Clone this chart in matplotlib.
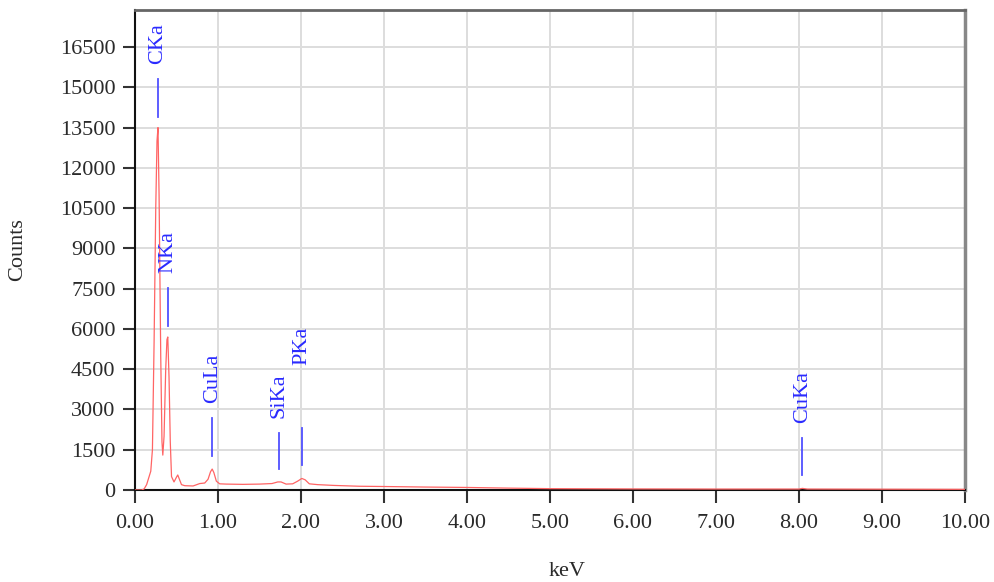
#!/usr/bin/env python3

import numpy as np
import matplotlib.pyplot as plt

plt.rcParams['font.family'] = ['Liberation Serif', 'DejaVu Serif']

# EDS spectrum, energy (keV) against counts
energy = [0.00, 0.08, 0.11, 0.14, 0.17, 0.19, 0.21, 0.23, 0.25, 0.265, 0.277,
          0.29, 0.31, 0.325, 0.335, 0.35, 0.37, 0.385, 0.395, 0.41, 0.425,
          0.44, 0.47, 0.50, 0.515, 0.535, 0.56, 0.60, 0.70, 0.78, 0.84, 0.88,
          0.91, 0.93, 0.95, 0.98, 1.02, 1.10, 1.30, 1.50, 1.65, 1.72, 1.76,
          1.82, 1.90, 1.96, 2.01, 2.05, 2.10, 2.20, 2.40, 2.70, 3.00, 3.50,
          4.00, 4.50, 5.00, 6.00, 7.00, 8.00, 8.04, 8.10, 9.00, 10.00]
counts = [0, 0, 40, 200, 500, 700, 1500, 5500, 10500, 13000, 13500,
          11000, 5000, 1800, 1300, 2000, 4500, 5600, 5700, 4200, 1800,
          500, 300, 480, 560, 400, 200, 160, 150, 240, 260, 400,
          680, 780, 650, 330, 230, 220, 210, 220, 240, 300, 300,
          220, 230, 330, 430, 380, 230, 200, 170, 140, 130, 110,
          95, 70, 50, 40, 35, 35, 60, 35, 30, 25]

# Element line markers
lines = ['CKa', 'NKa', 'CuLa', 'SiKa', 'PKa', 'CuKa']
line_kev = [0.277, 0.392, 0.930, 1.739, 2.013, 8.040]
marker_low = [13890, 6110, 1270, 780, 930, 560]
marker_high = [15300, 7520, 2680, 2120, 2310, 1940]

yticks = np.arange(0, 16501, 1500)
xticks = np.arange(0, 10.01, 1.0)

fig = plt.figure(figsize=(9.95, 5.82), dpi=100)
ax = fig.add_axes([135 / 995, 1 - 490 / 582, 830 / 995, 480 / 582])

ax.plot(energy, counts, color='#ff6464', lw=0.9, zorder=3)

# extra lift for labels that would collide
lift = [0, 0, 0, 0, 34, 0]
for name, x, lo, hi, extra in zip(lines, line_kev, marker_low, marker_high, lift):
    ax.plot([x, x], [lo, hi], color='#5050ff', lw=1.3, zorder=4)
    ax.annotate(name, (x, hi), xytext=(0, 11 + extra), textcoords='offset points',
                rotation=90, ha='center', va='bottom', color='#2a2aff',
                fontsize=16, zorder=5)

ax.set_xlim(0, 10)
ax.set_ylim(0, 17880)
ax.set_xticks(xticks)
ax.set_xticklabels(['%.2f' % t for t in xticks])
ax.set_yticks(yticks)
ax.set_yticklabels([str(t) for t in yticks])
ax.tick_params(axis='both', direction='out', length=9, width=1.5,
               color='#333333', labelsize=16, labelcolor='#2a2a2a')
ax.tick_params(axis='y', pad=5)
ax.tick_params(axis='x', pad=8)
ax.grid(True, color='#dddddd', lw=1.4, zorder=0)
ax.set_axisbelow(True)

ax.spines['left'].set_color('#111111')
ax.spines['bottom'].set_color('#111111')
ax.spines['left'].set_linewidth(1.5)
ax.spines['bottom'].set_linewidth(1.5)
ax.spines['top'].set_color('#666666')
ax.spines['right'].set_color('#888888')
ax.spines['top'].set_linewidth(2)
ax.spines['right'].set_linewidth(2.5)

fig.text(567 / 995, 1 - 571 / 582, 'keV', ha='center', va='center',
         fontsize=16, color='#2a2a2a')
fig.text(18 / 995, 1 - 250 / 582, 'Counts', ha='center', va='center',
         rotation=90, fontsize=16, color='#2a2a2a')

fig.savefig('out.png', dpi=100)
